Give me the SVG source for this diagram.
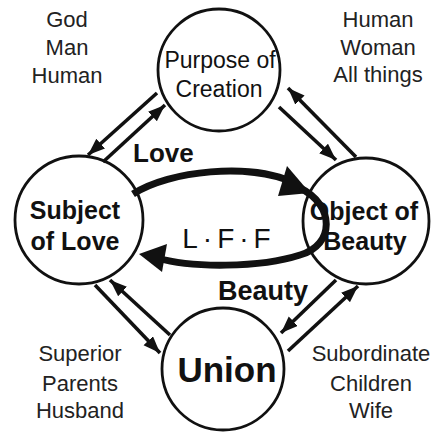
<svg xmlns="http://www.w3.org/2000/svg" width="432" height="436" viewBox="0 0 432 436">
<defs>
<style>
.node{fill:#fff;stroke:#111;stroke-width:2.8}
.lbl{font-family:"Liberation Sans",Arial,sans-serif;font-size:22px;fill:#222;text-anchor:middle}
.in{font-family:"Liberation Sans",Arial,sans-serif;font-size:23px;fill:#111;text-anchor:middle}
.b{font-family:"Liberation Sans",Arial,sans-serif;font-weight:bold;fill:#111}
.ln{stroke:#111;stroke-width:3.6;fill:none;marker-end:url(#ah)}
.big{stroke:#111;stroke-width:7;fill:none}
</style>
<marker id="ah" markerUnits="userSpaceOnUse" markerWidth="18" markerHeight="14" refX="17" refY="6.5" orient="auto">
<path d="M0,0 L17,6.5 L0,13 Z" fill="#111"/>
</marker>
</defs>
<rect width="432" height="436" fill="#fff"/>
<g id="labels">
<text class="lbl" x="67" y="27">God</text>
<text class="lbl" x="67" y="55">Man</text>
<text class="lbl" x="67" y="83">Human</text>
<text class="lbl" x="378" y="27">Human</text>
<text class="lbl" x="378" y="55">Woman</text>
<text class="lbl" x="378" y="82">All things</text>
<text class="lbl" x="80" y="361">Superior</text>
<text class="lbl" x="80" y="391">Parents</text>
<text class="lbl" x="80" y="418">Husband</text>
<text class="lbl" x="371" y="361">Subordinate</text>
<text class="lbl" x="371" y="391">Children</text>
<text class="lbl" x="371" y="418">Wife</text>
</g>
<g id="purpose">
<circle class="node" cx="219" cy="70" r="61"/>
<text class="in" x="220" y="68">Purpose of</text>
<text class="in" x="219" y="97">Creation</text>
</g>
<g id="subject">
<circle class="node" cx="79" cy="220" r="64"/>
<text class="b" x="75" y="219" font-size="25" text-anchor="middle">Subject</text>
<text class="b" x="75" y="250" font-size="25" text-anchor="middle">of Love</text>
</g>
<g id="object">
<circle class="node" cx="366" cy="221" r="63"/>
<text class="b" x="364" y="220" font-size="25" text-anchor="middle">Object of</text>
<text class="b" x="365" y="250" font-size="25" text-anchor="middle">Beauty</text>
</g>
<g id="union">
<circle class="node" cx="223" cy="369" r="61"/>
<text class="b" x="227" y="382" font-size="35" text-anchor="middle">Union</text>
</g>
<g id="connectors">
<line class="ln" x1="157" y1="93" x2="88" y2="155"/>
<line class="ln" x1="103" y1="162" x2="165" y2="105"/>
<line class="ln" x1="279" y1="107" x2="336" y2="160"/>
<line class="ln" x1="356" y1="157" x2="288" y2="88"/>
<line class="ln" x1="95" y1="285" x2="160" y2="353"/>
<line class="ln" x1="170" y1="335" x2="110" y2="280"/>
<line class="ln" x1="336" y1="280" x2="281" y2="333"/>
<line class="ln" x1="288" y1="351" x2="358" y2="286"/>
<path class="big" d="M133,194 C170,170 250,163 292,182"/>
<polygon points="287,166 278,196 310,193" fill="#111"/>
<path class="big" d="M300,188 C335,205 335,245 300,255 C260,268 190,268 158,258"/>
<polygon points="139,254 167,244 162,272" fill="#111"/>
</g>
<g id="center-labels">
<text class="b" x="133" y="162" font-size="26">Love</text>
<text class="b" x="263" y="300" font-size="27" text-anchor="middle">Beauty</text>
<text x="229" y="248" font-family="Liberation Sans, Arial, sans-serif" font-size="28" fill="#111" text-anchor="middle" letter-spacing="5">L·F·F</text>
</g>
</svg>
